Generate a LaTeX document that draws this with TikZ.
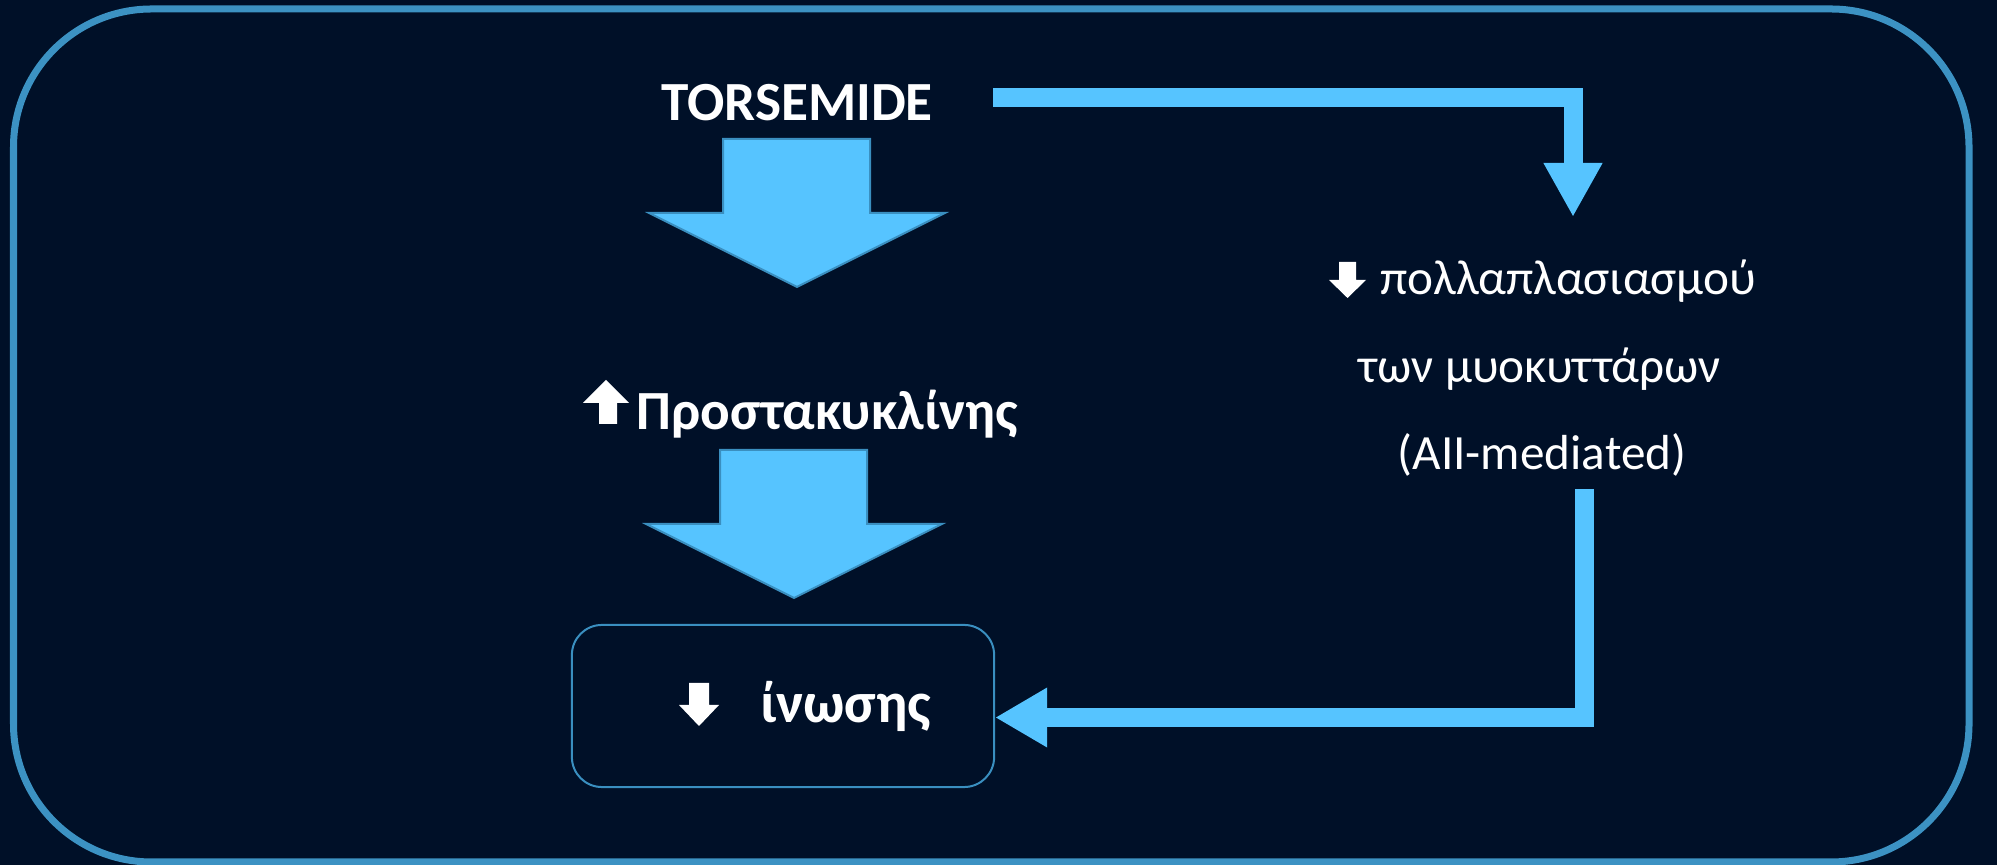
\documentclass[tikz,border=0pt]{standalone}
\usepackage{fontspec}
\setmainfont{Carlito}
\usetikzlibrary{arrows.meta}
\definecolor{navy}{HTML}{001028}
\definecolor{frameblue}{HTML}{3C92C3}
\definecolor{skyblue}{HTML}{56C4FF}
\definecolor{edgeblue}{HTML}{3A8FC0}
\tikzset{
  title/.style={text=white,inner sep=0pt,font=\fontsize{15.7pt}{19pt}\selectfont\bfseries},
  note/.style={text=white,inner sep=0pt,font=\fontsize{14pt}{17pt}\selectfont},
  bigarrow/.style={fill=skyblue,draw=edgeblue,line width=0.02cm},
  flow/.style={draw=skyblue,line width=0.19cm,-{Triangle[width=0.55cm,length=0.54cm]}},
  icon/.style={fill=white},
  outcome/.style={draw=edgeblue,line width=0.02cm,rounded corners=0.3cm,minimum width=4.22cm,minimum height=1.62cm}
}
\begin{document}
\begin{tikzpicture}[x=0.01cm,y=-0.01cm]
\fill[navy] (0,0) rectangle (1997,865);
\useasboundingbox (0,0) rectangle (1997,865);
\draw[frameblue,line width=0.07cm,rounded corners=1.38cm] (13.5,9) rectangle (1969,862);

\node[title,anchor=base] (torsemide) at (797,121) {TORSEMIDE};
\node[title,anchor=base west] (prost) at (636,430) {Προστακυκλίνης};
\node[outcome] (inosis) at (783,706) {};
\node[title,anchor=base west,font=\fontsize{16.4pt}{19pt}\selectfont\bfseries] (inosis txt) at (760,723) {ίνωσης};
\node[note,anchor=base west] (prolif) at (1380,295) {πολλαπλασιασμού};
\node[note,anchor=base] (cells) at (1540,383) {των μυοκυττάρων};
\node[note,anchor=base] (aii) at (1542,470) {(AII-mediated)};

\foreach \x/\y in {797/139,794/450}
  \draw[bigarrow] (\x-74,\y) -- (\x+73,\y) -- (\x+73,\y+74) -- (\x+148,\y+74)
    -- (\x,\y+148) -- (\x-148,\y+74) -- (\x-74,\y+74) -- cycle;

\fill[icon] (599,424) -- (599,403) -- (583,403) -- (606,380) -- (629,403) -- (617,403) -- (617,424) -- cycle;
\fill[icon] (1339,262) -- (1356,262) -- (1356,280) -- (1366,280) -- (1347.5,298) -- (1329,280) -- (1339,280) -- cycle;
\fill[icon] (689,683) -- (709,683) -- (709,705) -- (719,705) -- (699,726) -- (679,705) -- (689,705) -- cycle;

\coordinate (feed) at (993,97.5);
\coordinate (prolif in) at (1573,217);
\coordinate (aii out) at (1584,489);
\draw[flow] (feed) -| (prolif in);
\draw[flow,-{Triangle[width=0.56cm,length=0.52cm]}] (aii out) |- ([yshift=-0.115cm]inosis.east);
\end{tikzpicture}
\end{document}
